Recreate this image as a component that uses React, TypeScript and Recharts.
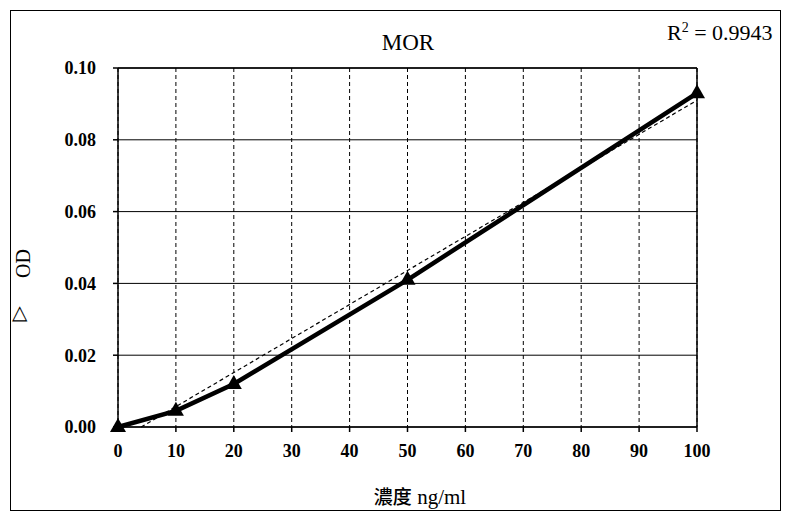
import React from "react";
import { LineChart, Line, XAxis, YAxis, CartesianGrid, ReferenceLine } from "recharts";

const conc = [0, 10, 20, 50, 100];
const deltaOD = [0, 0.0045, 0.012, 0.041, 0.093];
const trendX = [4, 100];
const trendY = [0, 0.091];
const xTicks = [0, 10, 20, 30, 40, 50, 60, 70, 80, 90, 100];
const yTicks = [0, 0.02, 0.04, 0.06, 0.08, 0.1];

const data = conc.map((x, i) => ({ x, od: deltaOD[i] }));
const trend = trendX.map((x, i) => ({ x, fit: trendY[i] }));

const font = "Liberation Serif, serif";

function Tri({ cx, cy }: { cx?: number; cy?: number }) {
  if (cx == null || cy == null) return null;
  return <path d={`M${cx},${cy - 9} L${cx + 8},${cy + 5} L${cx - 8},${cy + 5} Z`} fill="#000" />;
}

export default function App() {
  return (
    <div style={{ position: "absolute", left: 0, top: 0, width: 785, height: 517, background: "#fff", fontFamily: font, color: "#000" }}>
      <div style={{ position: "absolute", left: 10, top: 10, width: 771, height: 501, border: "1.5px solid #000", boxSizing: "border-box" }} />
      <div style={{ position: "absolute", left: 667, top: 20, fontSize: 22, whiteSpace: "nowrap" }}>
        R<sup style={{ fontSize: 14 }}>2</sup> = 0.9943
      </div>
      <div style={{ position: "absolute", left: 358, top: 30, width: 100, textAlign: "center", fontSize: 23 }}>MOR</div>
      <div style={{ position: "absolute", left: 9, top: 252, fontSize: 20, transform: "rotate(-90deg)", transformOrigin: "center" }}>OD</div>
      <div style={{ position: "absolute", left: 12, top: 300, fontSize: 20 }}>△</div>
      <div style={{ position: "absolute", left: 320, top: 482, width: 200, textAlign: "center", fontSize: 21, whiteSpace: "nowrap" }}>
        <span style={{ fontFamily: "Noto Sans CJK TC", fontSize: 19, fontWeight: 500 }}>濃度</span> ng/ml
      </div>
      <LineChart width={785} height={517} margin={{ top: 68, right: 88, bottom: 62, left: 53 }} style={{ position: "absolute", left: 0, top: 0 }}>
        <CartesianGrid vertical={false} stroke="#000" strokeWidth={1} />
        <CartesianGrid horizontal={false} stroke="#000" strokeDasharray="4 3" strokeWidth={1} />
        <XAxis dataKey="x" type="number" domain={[0, 100]} ticks={xTicks} allowDuplicatedCategory={false}
          tick={{ fill: "#000", fontSize: 18, fontFamily: font, fontWeight: "bold" }} stroke="#000" strokeWidth={1.5} tickSize={5} tickMargin={12} height={28} />
        <YAxis type="number" domain={[0, 0.1]} ticks={yTicks} tickFormatter={(v) => v.toFixed(2)}
          tick={{ fill: "#000", fontSize: 18, fontFamily: font, fontWeight: "bold" }} stroke="#000" strokeWidth={1.5} tickSize={5} tickMargin={17} width={65} />
        <ReferenceLine x={100} stroke="#000" strokeWidth={1.5} />
        <ReferenceLine y={0.1} stroke="#000" strokeWidth={1.5} />
        <Line data={trend} dataKey="fit" type="linear" stroke="#000" strokeWidth={1.2} strokeDasharray="4 3" dot={false} isAnimationActive={false} />
        <Line data={data} dataKey="od" type="linear" stroke="#000" strokeWidth={4.5} dot={<Tri />} activeDot={false} isAnimationActive={false} />
      </LineChart>
    </div>
  );
}
